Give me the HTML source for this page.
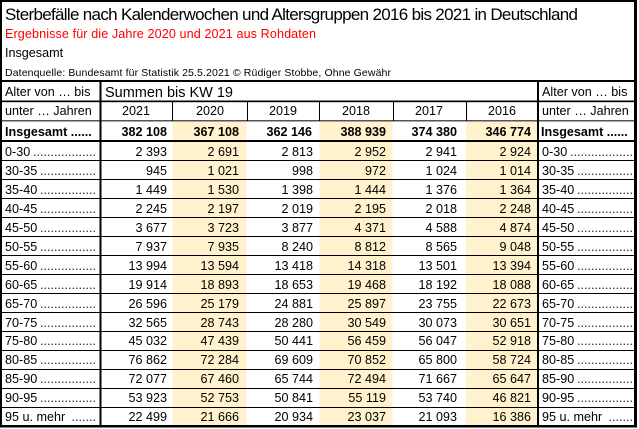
<!DOCTYPE html>
<html>
<head>
<meta charset="utf-8">
<style>
html,body{margin:0;padding:0;background:#fff;}
svg{display:block;}
text{font-family:"Liberation Sans",Arial,sans-serif;fill:#000;}
.n{font-size:12.6px;text-anchor:end;}
.b{font-size:12.6px;font-weight:bold;}
.bn{font-size:12.6px;font-weight:bold;text-anchor:end;}
.l{font-size:12.6px;}
.y{font-size:12.6px;text-anchor:middle;}
.d{font-size:12.6px;fill:#223;text-anchor:end;}
</style>
</head>
<body>
<svg width="639" height="429" viewBox="0 0 639 429" xmlns="http://www.w3.org/2000/svg">
<rect x="0" y="0" width="639" height="429" fill="#fff"/>
<!-- highlights -->
<rect x="172.5" y="121" width="74" height="305" fill="#FFF2CC"/>
<rect x="319.5" y="121" width="73" height="305" fill="#FFF2CC"/>
<rect x="466" y="121" width="71" height="305" fill="#FFF2CC"/>

<!-- header text -->
<text x="5" y="20" style="font-size:17px" textLength="573" lengthAdjust="spacing">Sterbefälle nach Kalenderwochen und Altersgruppen 2016 bis 2021 in Deutschland</text>
<text x="5" y="38" style="font-size:12.6px;fill:#FF0000" textLength="311" lengthAdjust="spacing">Ergebnisse für die Jahre 2020 und 2021 aus Rohdaten</text>
<text x="5" y="57" class="l">Insgesamt</text>
<text x="5" y="76" style="font-size:10.5px" textLength="386" lengthAdjust="spacing">Datenquelle: Bundesamt für Statistik 25.5.2021 © Rüdiger Stobbe, Ohne Gewähr</text>

<!-- lines -->
<rect x="0" y="80" width="637" height="2" fill="#000"/>
<rect x="0" y="100.5" width="637" height="1.7" fill="#000"/>
<rect x="0" y="120" width="637" height="1.5" fill="#555"/>
<rect x="0" y="140" width="637" height="2" fill="#000"/>
<g fill="#000">
<rect x="0" y="160" width="637" height="1"/>
<rect x="0" y="179" width="637" height="1"/>
<rect x="0" y="198" width="637" height="1"/>
<rect x="0" y="217" width="637" height="1"/>
<rect x="0" y="236" width="637" height="1"/>
<rect x="0" y="255" width="637" height="1"/>
<rect x="0" y="274" width="637" height="1"/>
<rect x="0" y="293" width="637" height="1"/>
<rect x="0" y="312" width="637" height="1"/>
<rect x="0" y="331" width="637" height="1"/>
<rect x="0" y="350" width="637" height="1"/>
<rect x="0" y="369" width="637" height="1"/>
<rect x="0" y="388" width="637" height="1"/>
<rect x="0" y="407" width="637" height="1"/>
<!-- year separators -->
<rect x="172" y="101" width="1" height="20"/>
<rect x="247" y="101" width="1" height="20"/>
<rect x="319" y="101" width="1" height="20"/>
<rect x="393" y="101" width="1" height="20"/>
<rect x="466" y="101" width="1" height="20"/>
</g>

<!-- header rows -->
<text x="5" y="96" class="l">Alter von … bis</text>
<text x="105" y="97" style="font-size:14.5px" textLength="128" lengthAdjust="spacing">Summen bis KW 19</text>
<text x="542" y="96" class="l">Alter von … bis</text>
<text x="5" y="115" class="l">unter … Jahren</text>
<text x="542" y="115" class="l">unter … Jahren</text>
<text x="136" y="115" class="y">2021</text>
<text x="210" y="115" class="y">2020</text>
<text x="283" y="115" class="y">2019</text>
<text x="356" y="115" class="y">2018</text>
<text x="429" y="115" class="y">2017</text>
<text x="502" y="115" class="y">2016</text>

<!-- Insgesamt -->
<text x="5" y="136" class="b">Insgesamt ......</text>
<text x="541" y="136" class="b">Insgesamt ......</text>
<text x="167" y="136" class="bn">382 108</text>
<text x="239" y="136" class="bn">367 108</text>
<text x="312" y="136" class="bn">362 146</text>
<text x="386" y="136" class="bn">388 939</text>
<text x="457" y="136" class="bn">374 380</text>
<text x="531" y="136" class="bn">346 774</text>

<!-- data rows -->
<g>
<!-- 0-30 y=156 -->
<text x="5" y="156" class="l">0-30</text><text x="96" y="156" class="d">..................</text>
<text x="542" y="156" class="l">0-30</text><text x="633" y="156" class="d">..................</text>
<text x="167" y="156" class="n">2 393</text><text x="239" y="156" class="n">2 691</text><text x="313" y="156" class="n">2 813</text><text x="386" y="156" class="n">2 952</text><text x="457" y="156" class="n">2 941</text><text x="531" y="156" class="n">2 924</text>

<text x="5" y="175" class="l">30-35</text><text x="96" y="175" class="d">................</text>
<text x="542" y="175" class="l">30-35</text><text x="633" y="175" class="d">................</text>
<text x="167" y="175" class="n">945</text><text x="239" y="175" class="n">1 021</text><text x="313" y="175" class="n">998</text><text x="386" y="175" class="n">972</text><text x="457" y="175" class="n">1 024</text><text x="531" y="175" class="n">1 014</text>

<text x="5" y="194" class="l">35-40</text><text x="96" y="194" class="d">................</text>
<text x="542" y="194" class="l">35-40</text><text x="633" y="194" class="d">................</text>
<text x="167" y="194" class="n">1 449</text><text x="239" y="194" class="n">1 530</text><text x="313" y="194" class="n">1 398</text><text x="386" y="194" class="n">1 444</text><text x="457" y="194" class="n">1 376</text><text x="531" y="194" class="n">1 364</text>

<text x="5" y="213" class="l">40-45</text><text x="96" y="213" class="d">................</text>
<text x="542" y="213" class="l">40-45</text><text x="633" y="213" class="d">................</text>
<text x="167" y="213" class="n">2 245</text><text x="239" y="213" class="n">2 197</text><text x="313" y="213" class="n">2 019</text><text x="386" y="213" class="n">2 195</text><text x="457" y="213" class="n">2 018</text><text x="531" y="213" class="n">2 248</text>

<text x="5" y="232" class="l">45-50</text><text x="96" y="232" class="d">................</text>
<text x="542" y="232" class="l">45-50</text><text x="633" y="232" class="d">................</text>
<text x="167" y="232" class="n">3 677</text><text x="239" y="232" class="n">3 723</text><text x="313" y="232" class="n">3 877</text><text x="386" y="232" class="n">4 371</text><text x="457" y="232" class="n">4 588</text><text x="531" y="232" class="n">4 874</text>

<text x="5" y="251" class="l">50-55</text><text x="96" y="251" class="d">................</text>
<text x="542" y="251" class="l">50-55</text><text x="633" y="251" class="d">................</text>
<text x="167" y="251" class="n">7 937</text><text x="239" y="251" class="n">7 935</text><text x="313" y="251" class="n">8 240</text><text x="386" y="251" class="n">8 812</text><text x="457" y="251" class="n">8 565</text><text x="531" y="251" class="n">9 048</text>

<text x="5" y="270" class="l">55-60</text><text x="96" y="270" class="d">................</text>
<text x="542" y="270" class="l">55-60</text><text x="633" y="270" class="d">................</text>
<text x="167" y="270" class="n">13 994</text><text x="239" y="270" class="n">13 594</text><text x="313" y="270" class="n">13 418</text><text x="386" y="270" class="n">14 318</text><text x="457" y="270" class="n">13 501</text><text x="531" y="270" class="n">13 394</text>

<text x="5" y="289" class="l">60-65</text><text x="96" y="289" class="d">................</text>
<text x="542" y="289" class="l">60-65</text><text x="633" y="289" class="d">................</text>
<text x="167" y="289" class="n">19 914</text><text x="239" y="289" class="n">18 893</text><text x="313" y="289" class="n">18 653</text><text x="386" y="289" class="n">19 468</text><text x="457" y="289" class="n">18 192</text><text x="531" y="289" class="n">18 088</text>

<text x="5" y="308" class="l">65-70</text><text x="96" y="308" class="d">................</text>
<text x="542" y="308" class="l">65-70</text><text x="633" y="308" class="d">................</text>
<text x="167" y="308" class="n">26 596</text><text x="239" y="308" class="n">25 179</text><text x="313" y="308" class="n">24 881</text><text x="386" y="308" class="n">25 897</text><text x="457" y="308" class="n">23 755</text><text x="531" y="308" class="n">22 673</text>

<text x="5" y="327" class="l">70-75</text><text x="96" y="327" class="d">................</text>
<text x="542" y="327" class="l">70-75</text><text x="633" y="327" class="d">................</text>
<text x="167" y="327" class="n">32 565</text><text x="239" y="327" class="n">28 743</text><text x="313" y="327" class="n">28 280</text><text x="386" y="327" class="n">30 549</text><text x="457" y="327" class="n">30 073</text><text x="531" y="327" class="n">30 651</text>

<text x="5" y="345" class="l">75-80</text><text x="96" y="345" class="d">................</text>
<text x="542" y="345" class="l">75-80</text><text x="633" y="345" class="d">................</text>
<text x="167" y="345" class="n">45 032</text><text x="239" y="345" class="n">47 439</text><text x="313" y="345" class="n">50 441</text><text x="386" y="345" class="n">56 459</text><text x="457" y="345" class="n">56 047</text><text x="531" y="345" class="n">52 918</text>

<text x="5" y="364" class="l">80-85</text><text x="96" y="364" class="d">................</text>
<text x="542" y="364" class="l">80-85</text><text x="633" y="364" class="d">................</text>
<text x="167" y="364" class="n">76 862</text><text x="239" y="364" class="n">72 284</text><text x="313" y="364" class="n">69 609</text><text x="386" y="364" class="n">70 852</text><text x="457" y="364" class="n">65 800</text><text x="531" y="364" class="n">58 724</text>

<text x="5" y="383" class="l">85-90</text><text x="96" y="383" class="d">................</text>
<text x="542" y="383" class="l">85-90</text><text x="633" y="383" class="d">................</text>
<text x="167" y="383" class="n">72 077</text><text x="239" y="383" class="n">67 460</text><text x="313" y="383" class="n">65 744</text><text x="386" y="383" class="n">72 494</text><text x="457" y="383" class="n">71 667</text><text x="531" y="383" class="n">65 647</text>

<text x="5" y="402" class="l">90-95</text><text x="96" y="402" class="d">................</text>
<text x="542" y="402" class="l">90-95</text><text x="633" y="402" class="d">................</text>
<text x="167" y="402" class="n">53 923</text><text x="239" y="402" class="n">52 753</text><text x="313" y="402" class="n">50 841</text><text x="386" y="402" class="n">55 119</text><text x="457" y="402" class="n">53 740</text><text x="531" y="402" class="n">46 821</text>

<text x="5" y="421" class="l">95 u. mehr</text><text x="96" y="421" class="d">.......</text>
<text x="542" y="421" class="l">95 u. mehr</text><text x="633" y="421" class="d">.......</text>
<text x="167" y="421" class="n">22 499</text><text x="239" y="421" class="n">21 666</text><text x="313" y="421" class="n">20 934</text><text x="386" y="421" class="n">23 037</text><text x="457" y="421" class="n">21 093</text><text x="531" y="421" class="n">16 386</text>
</g>

<!-- thick verticals & borders -->
<g fill="#000">
<rect x="99.5" y="80" width="2" height="347"/>
<rect x="537" y="80" width="2" height="347"/>
<rect x="0" y="0" width="2" height="427"/>
<rect x="0" y="0" width="637" height="2"/>
<rect x="634" y="0" width="3" height="427"/>
<rect x="0" y="425" width="637" height="2.5"/>
</g>
<rect x="637" y="0" width="2" height="429" fill="#fff"/>
</svg>
</body>
</html>
